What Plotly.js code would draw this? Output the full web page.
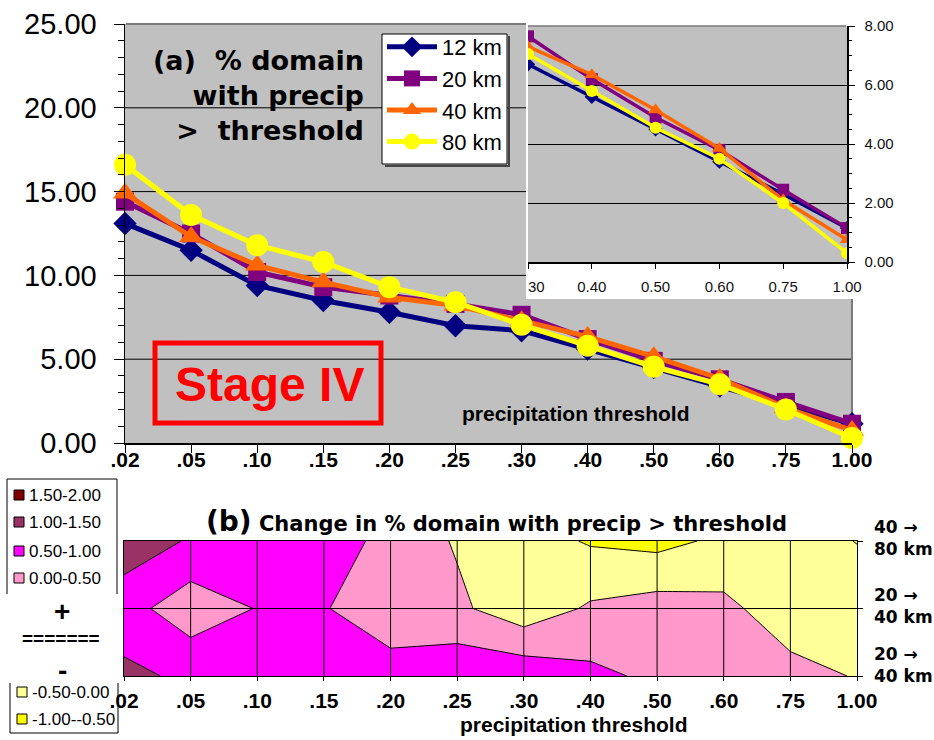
<!DOCTYPE html>
<html><head><meta charset="utf-8">
<script src="https://cdn.plot.ly/plotly-3.0.1.min.js"></script>
<style>html,body{margin:0;padding:0;background:#fff}</style>
</head><body><div id="chart" style="width:934px;height:740px"></div>
<script>
// ---------- data ----------
const categories = ['.02','.05','.10','.15','.20','.25','.30','.40','.50','.60','.75','1.00'];
const seriesNames = ['12 km','20 km','40 km','80 km'];
const km12 = [13.1, 11.5, 9.4, 8.5, 7.8, 7.0, 6.7, 5.6, 4.5, 3.4, 2.3, 1.15];
const km20 = [14.4, 12.5, 10.2, 9.3, 8.8, 8.3, 7.65, 6.2, 4.9, 3.8, 2.45, 1.15];
const km40 = [14.9, 12.3, 10.6, 9.6, 8.7, 8.2, 7.3, 6.35, 5.15, 3.85, 2.1, 0.75];
const km80 = [16.6, 13.6, 11.8, 10.8, 9.3, 8.4, 7.05, 5.8, 4.55, 3.5, 2.0, 0.3];
const mainGridValues = [5, 10, 15, 20];
const insetCategories = ['0.30','0.40','0.50','0.60','0.75','1.00'];
const insetTickLabels = ['\u00a0\u00a0\u00a0\u00a030','0.40','0.50','0.60','0.75','1.00'];
const insetStart = 6; // inset shows thresholds .30 .. 1.00

// panel (b): change in % domain, rows bottom -> top
const rowLabels = ['20 \u2192<br>40 km', '20 \u2192<br>40 km', '40 \u2192<br>80 km'];
const changeBottom = [1.12, 0.90, 0.80, 0.80, 0.64, 0.87, 0.85, 0.62, 0.40, 0.30, 0.17, -0.03];
const changeMiddle = [0.70, 0.20, 0.52, 0.52, 0.30, 0.10, -0.32, 0.07, 0.22, 0.13, -0.30, -0.30];
const changeTop    = [1.30, 0.95, 0.80, 0.75, 0.35, -0.05, -0.27, -0.55, -0.65, -0.40, -0.35, -0.51];
const bandLabels = ['-1.00--0.50','-0.50-0.00','0.00-0.50','0.50-1.00','1.00-1.50','1.50-2.00'];
const bandColors = ['#FFFF00','#FFFF99','#FF99CC','#FF00FF','#993366','#800000'];

// ---------- styles ----------
const W = 934, H = 740;
const X = px => px / W;
const Y = py => 1 - py / H;
const FONT = 'Liberation Sans, Arial, sans-serif';
const WIDEB = 'DejaVu Sans, Liberation Sans, sans-serif';
const GRAY = '#c0c0c0';
const colors = ['#000080','#800080','#FF6600','#FFFF00'];
const symbols = ['diamond','square','triangle-up','circle'];
const bigSizes = [18, 18, 21, 22];
const smallSizes = [11, 12, 13, 12];
const allSeries = [km12, km20, km40, km80];

// main panel area (px) and the white frame holding the inset
const MAIN = {l: 125, r: 852, t: 24, b: 443};
const FRAME = {l: 526, b: 299};
const INSET = {l: 528, r: 847, t: 26, b: 262};
const Y_MAX = 25;

const traces = [];
allSeries.forEach((s, i) => {
  traces.push({
    type: 'scatter', mode: 'lines+markers', name: seriesNames[i],
    x: categories, y: s, xaxis: 'x', yaxis: 'y',
    line: {color: colors[i], width: 5},
    marker: {symbol: symbols[i], size: bigSizes[i], color: colors[i], line: {width: 0}},
    cliponaxis: false, hoverinfo: 'x+y+name'
  });
});
allSeries.forEach((s, i) => {
  traces.push({
    type: 'scatter', mode: 'lines+markers', name: seriesNames[i], showlegend: false,
    x: insetCategories, y: s.slice(insetStart), xaxis: 'x3', yaxis: 'y3',
    line: {color: colors[i], width: 3.5},
    marker: {symbol: symbols[i], size: smallSizes[i], color: colors[i], line: {width: 0}},
    cliponaxis: true
  });
});

// colorscale with one flat colour per 0.5 band between -1 and 2
const cs = [];
bandColors.forEach((c, i) => { cs.push([i / 6, c]); cs.push([(i + 1) / 6, c]); });

traces.push({
  type: 'contour', x: categories, y: [0, 1, 2],
  z: [changeBottom, changeMiddle, changeTop],
  xaxis: 'x4', yaxis: 'y4',
  autocontour: false, zauto: false, zmin: -1, zmax: 2,
  contours: {start: -1, end: 2, size: 0.5, coloring: 'fill', showlines: true},
  line: {color: '#000', width: 1, smoothing: 0},
  colorscale: cs, showscale: false, hoverinfo: 'z'
});

// ---------- shapes ----------
const shapes = [];
// grey plot area of panel (a), with the white frame of the inset cut out
shapes.push({type: 'path', xref: 'paper', yref: 'paper', layer: 'below',
  path: `M ${X(MAIN.l)} ${Y(MAIN.t)} L ${X(FRAME.l)} ${Y(MAIN.t)} L ${X(FRAME.l)} ${Y(FRAME.b)} ` +
        `L ${X(MAIN.r)} ${Y(FRAME.b)} L ${X(MAIN.r)} ${Y(MAIN.b)} L ${X(MAIN.l)} ${Y(MAIN.b)} Z`,
  fillcolor: GRAY, line: {width: 0}});
// white frame behind the inset
shapes.push({type: 'rect', xref: 'paper', yref: 'paper', layer: 'below',
  x0: X(FRAME.l), x1: 1, y0: Y(FRAME.b), y1: 1, fillcolor: '#ffffff', line: {width: 0}});
// grey plot area of the inset
shapes.push({type: 'rect', xref: 'paper', yref: 'paper', layer: 'below',
  x0: X(INSET.l), x1: X(INSET.r), y0: Y(INSET.b), y1: Y(INSET.t), fillcolor: GRAY, line: {width: 0}});
// horizontal gridlines of panel (a), stopped at the inset frame
mainGridValues.forEach(v => {
  const py = MAIN.b - (MAIN.b - MAIN.t) * v / Y_MAX;
  const xEnd = py < FRAME.b ? FRAME.l : MAIN.r;
  shapes.push({type: 'line', xref: 'paper', yref: 'y', x0: X(MAIN.l), x1: X(xEnd), y0: v, y1: v,
    line: {color: '#000', width: 1}, layer: 'below'});
});
// main plot border (grey top / right)
shapes.push({type: 'line', xref: 'paper', yref: 'paper', x0: X(126), x1: X(FRAME.l), y0: Y(MAIN.t), y1: Y(MAIN.t),
  line: {color: '#7a7a7a', width: 2}, layer: 'below'});
shapes.push({type: 'line', xref: 'paper', yref: 'paper', x0: X(MAIN.r), x1: X(MAIN.r), y0: Y(FRAME.b), y1: Y(442),
  line: {color: '#7a7a7a', width: 2}, layer: 'below'});
// inset top border
shapes.push({type: 'line', xref: 'paper', yref: 'paper', x0: X(INSET.l), x1: X(INSET.r - 1), y0: Y(INSET.t), y1: Y(INSET.t),
  line: {color: '#7a7a7a', width: 1.5}, layer: 'below'});
// legend box + shadow
shapes.push({type: 'path', xref: 'paper', yref: 'paper',
  path: `M ${X(385)} ${Y(166)} L ${X(509)} ${Y(166)} L ${X(509)} ${Y(36)}`,
  line: {color: '#444', width: 2}, layer: 'above'});
shapes.push({type: 'rect', xref: 'paper', yref: 'paper', x0: X(382), x1: X(507), y0: Y(164), y1: Y(34),
  fillcolor: '#ffffff', line: {color: '#000', width: 1}, layer: 'above'});
// Stage IV box
shapes.push({type: 'rect', xref: 'paper', yref: 'paper', x0: X(155), x1: X(381), y0: Y(423), y1: Y(343),
  line: {color: '#FF0000', width: 5}, layer: 'above'});
// grid over contour panel (category index positions)
categories.forEach((c, i) => {
  if (i === 0 || i === categories.length - 1) return;
  shapes.push({type: 'line', xref: 'x4', yref: 'y4', x0: i, x1: i, y0: 0, y1: 2,
    line: {color: '#000', width: 1}, layer: 'above'});
});
shapes.push({type: 'line', xref: 'x4', yref: 'y4', x0: 0, x1: categories.length - 1, y0: 1, y1: 1,
  line: {color: '#000', width: 1}, layer: 'above'});
// legend boxes for panel (b)
const boxLine = {color: '#000', width: 1};
shapes.push({type: 'path', xref: 'paper', yref: 'paper',
  path: `M ${X(7)} ${Y(594)} L ${X(7)} ${Y(479)} L ${X(117)} ${Y(479)} L ${X(117)} ${Y(594)}`, line: boxLine, layer: 'above'});
shapes.push({type: 'path', xref: 'paper', yref: 'paper',
  path: `M ${X(10)} ${Y(683)} L ${X(10)} ${Y(733)} L ${X(118)} ${Y(733)} L ${X(118)} ${Y(683)}`, line: boxLine, layer: 'above'});

// legend swatches + labels for panel (b)
const swatchY = {'1.50-2.00': 495, '1.00-1.50': 522, '0.50-1.00': 551, '0.00-0.50': 578,
                 '-0.50-0.00': 692, '-1.00--0.50': 719};
const annotations = [];
bandLabels.forEach((lab, i) => {
  const py = swatchY[lab];
  const neg = py > 650;
  const x0 = neg ? 17 : 14;
  shapes.push({type: 'rect', xref: 'paper', yref: 'paper',
    x0: X(x0), x1: X(x0 + 10), y0: Y(py + 5), y1: Y(py - 5),
    fillcolor: bandColors[i], line: {color: '#000', width: 1}, layer: 'above'});
  annotations.push({text: lab, xref: 'paper', yref: 'paper', x: X(x0 + 13), y: Y(py),
    xanchor: 'left', yanchor: 'middle', showarrow: false,
    font: {family: FONT, size: 17, color: '#000'}});
});
annotations.push({text: '<b>+</b>', xref: 'paper', yref: 'paper', x: X(62), y: Y(611),
  xanchor: 'center', yanchor: 'middle', showarrow: false, font: {family: FONT, size: 28, color: '#000'}});
annotations.push({text: '<b>=======</b>', xref: 'paper', yref: 'paper', x: X(61), y: Y(638),
  xanchor: 'center', yanchor: 'middle', showarrow: false, font: {family: FONT, size: 19, color: '#000'}});
annotations.push({text: '<b>-</b>', xref: 'paper', yref: 'paper', x: X(62), y: Y(670),
  xanchor: 'center', yanchor: 'middle', showarrow: false, font: {family: FONT, size: 28, color: '#000'}});

// panel (a) texts
annotations.push({text: '(a)\u00a0\u00a0% domain<br>with precip<br>&gt;\u00a0\u00a0threshold',
  xref: 'paper', yref: 'paper', x: X(366), y: Y(43), xanchor: 'right', yanchor: 'top', align: 'right',
  showarrow: false, font: {family: WIDEB, size: 27, color: '#000', weight: 'bold'}});
annotations.push({text: 'Stage IV', xref: 'paper', yref: 'paper', x: X(269), y: Y(384),
  xanchor: 'center', yanchor: 'middle', showarrow: false,
  font: {family: FONT, size: 48, color: '#FF0000', weight: 'bold'}});
annotations.push({text: 'precipitation threshold', xref: 'paper', yref: 'paper', x: X(576), y: Y(413),
  xanchor: 'center', yanchor: 'middle', showarrow: false,
  font: {family: FONT, size: 21, color: '#000', weight: 'bold'}});
// panel (b) texts
annotations.push({text: '<span style="font-size:28px">(b)</span> Change in % domain with precip &gt; threshold',
  xref: 'paper', yref: 'paper', x: X(496), y: Y(521), xanchor: 'center', yanchor: 'middle', showarrow: false,
  font: {family: WIDEB, size: 21, color: '#000', weight: 'bold'}});
annotations.push({text: 'precipitation threshold', xref: 'paper', yref: 'paper', x: X(574), y: Y(724),
  xanchor: 'center', yanchor: 'middle', showarrow: false,
  font: {family: FONT, size: 21, color: '#000', weight: 'bold'}});
const rowShift = [11, 3, 3];
rowLabels.forEach((lab, i) => {
  annotations.push({text: lab, xref: 'paper', yref: 'y4', x: X(872), y: i, yshift: rowShift[i],
    xanchor: 'left', yanchor: 'middle', align: 'left', showarrow: false,
    font: {family: WIDEB, size: 17, color: '#000', weight: 'bold'}});
});

const layout = {
  width: W, height: H, autosize: false,
  margin: {l: 0, r: 0, t: 0, b: 0, pad: 0},
  paper_bgcolor: '#ffffff', plot_bgcolor: 'rgba(0,0,0,0)',
  font: {family: FONT, color: '#000'},
  showlegend: true,
  legend: {x: X(382), y: Y(26), xanchor: 'left', yanchor: 'top',
    bgcolor: 'rgba(0,0,0,0)', borderwidth: 0,
    font: {family: FONT, size: 22, color: '#000'}, itemwidth: 50},
  xaxis: {domain: [X(MAIN.l), X(MAIN.r)], anchor: 'y', type: 'category', range: [0, 11],
    showline: true, linecolor: '#000', linewidth: 1.5, ticks: 'outside', ticklen: 8, tickcolor: '#000',
    ticklabelstandoff: -11,
    showgrid: false, zeroline: false, fixedrange: true,
    tickfont: {family: FONT, size: 21, color: '#000', weight: 'bold'}},
  yaxis: {domain: [Y(MAIN.b), Y(MAIN.t)], anchor: 'x', range: [0, Y_MAX], tickmode: 'array',
    tickvals: [0, 5, 10, 15, 20, 25], tickformat: '.2f',
    showline: true, linecolor: '#000', linewidth: 1.5, ticks: 'outside', ticklen: 10, tickcolor: '#000',
    ticklabelstandoff: 11,
    minor: {dtick: 1, ticks: 'outside', ticklen: 6, tickcolor: '#000', showgrid: false},
    showgrid: false, zeroline: false, fixedrange: true,
    tickfont: {family: FONT, size: 29, color: '#000'}},
  xaxis3: {domain: [X(INSET.l), X(INSET.r)], anchor: 'y3', type: 'category', range: [0, 5],
    tickmode: 'array', tickvals: insetCategories, ticktext: insetTickLabels,
    showline: true, linecolor: '#000', linewidth: 1.5, ticks: 'outside', ticklen: 5, tickcolor: '#000',
    ticklabelstandoff: 5,
    showgrid: false, zeroline: false, fixedrange: true,
    tickfont: {family: FONT, size: 15, color: '#111'}},
  yaxis3: {domain: [Y(INSET.b), Y(INSET.t)], anchor: 'x3', side: 'right', range: [0, 8], tickmode: 'array',
    tickvals: [0, 2, 4, 6, 8], tickformat: '.2f',
    showline: true, linecolor: '#000', linewidth: 1.5, ticks: 'outside', ticklen: 6, tickcolor: '#000',
    ticklabelstandoff: 7,
    minor: {dtick: 0.5, ticks: 'outside', ticklen: 3, tickcolor: '#000', showgrid: false},
    showgrid: true, gridcolor: '#000', gridwidth: 1, zeroline: false, fixedrange: true,
    tickfont: {family: FONT, size: 15, color: '#111'}},
  xaxis4: {domain: [X(124), X(857)], anchor: 'y4', type: 'category', range: [0, 11],
    showline: true, mirror: true, linecolor: '#000', linewidth: 1, ticks: 'outside', ticklen: 4, tickcolor: '#000',
    ticklabelstandoff: 2,
    showgrid: false, zeroline: false, fixedrange: true,
    tickfont: {family: FONT, size: 21, color: '#000', weight: 'bold'}},
  yaxis4: {domain: [Y(676), Y(541)], anchor: 'x4', side: 'right', range: [0, 2], tickmode: 'array',
    tickvals: [0, 1, 2], showticklabels: false,
    showline: true, mirror: true, linecolor: '#000', linewidth: 1, ticks: 'outside', ticklen: 5, tickcolor: '#000',
    showgrid: false, zeroline: false, fixedrange: true},
  shapes: shapes,
  annotations: annotations
};

Plotly.newPlot('chart', traces, layout, {displayModeBar: false, staticPlot: true});
</script>
</body></html>
